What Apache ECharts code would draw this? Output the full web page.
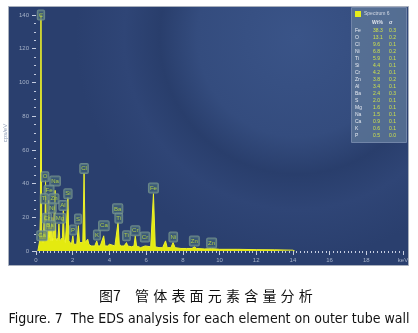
<!DOCTYPE html>
<html><head><meta charset="utf-8">
<script src="https://cdn.jsdelivr.net/npm/echarts@6/dist/echarts.min.js"></script>
<style>html,body{margin:0;padding:0;background:#fff;}#c{width:418px;height:333px;}</style>
</head><body><div id="c"></div>
<script>
// Spectrum (keV, cps/eV)
const energy = [0.10,0.15,0.20,0.24,0.27,0.31,0.35,0.38,0.42,0.45,0.48,0.52,0.56,0.58,0.62,0.66,0.70,0.74,0.78,0.82,0.86,0.90,0.94,1.00,1.04,1.08,1.13,1.20,1.25,1.30,1.38,1.44,1.49,1.54,1.60,1.68,1.74,1.79,1.85,1.93,2.01,2.06,2.15,2.22,2.31,2.37,2.46,2.55,2.62,2.68,2.78,2.82,2.88,3.00,3.10,3.20,3.31,3.38,3.50,3.59,3.69,3.76,3.90,4.01,4.10,4.30,4.40,4.47,4.54,4.65,4.80,4.93,5.00,5.20,5.34,5.41,5.48,5.70,5.80,5.95,6.05,6.25,6.40,6.50,6.70,6.90,7.06,7.15,7.35,7.47,7.58,7.90,8.20,8.50,8.63,8.75,9.20,9.57,10.0,11.0,12.0,13.0,14.0,14.1];
const counts = [0,3,6,20,150,10,8,5,12,22,10,42,12,18,6,10,30,8,14,6,20,6,8,26,36,8,6,8,16,6,7,8,24,7,5,6,32,6,5,4,9,4,5,4,15,5,4,5,46,5,4,7,4,3,4,3,6,3,3,4,9,3,3,4,3,3,4,17,4,3,3,5,3,2.5,3,9,3,2,2,3,2,2.5,34,2.5,2,2,6,2,2,5,2,1.5,1.5,1.5,2.5,1.5,1.2,1.5,1,1,0.8,0.7,0.5,0];

// Peak markers
const peakNames  = ['C','O','Na','Fe','Si','Ti','Zn','Al','Ni','Cr','Mg','Ba','S','P','Ca','K','Ca','Cl','Ba','Ti','Ti','Cr','Cr','Fe','Ni','Zn','Zn'];
const peakEnergy = [0.27,0.49,1.04,0.71,1.74,0.45,0.98,1.47,0.87,0.60,1.31,0.76,2.29,2.02,0.33,3.32,3.70,2.62,4.45,4.51,4.93,5.41,5.94,6.40,7.48,8.63,9.57];
const peakLabelY = [140,44,41.5,36,34,31,31,27,25.5,19.5,19.5,15,19,12.5,9,9.5,15,49,25,19.5,9,12,8.3,37.4,8.3,6,4.7];

// Quantification table
const tableElements = ['Fe','O','Cl','Ni','Ti','Si','Cr','Zn','Al','Ba','S','Mg','Na','Ca','K','P'];
const tableWt = ['38.3','13.1','9.6','6.8','5.9','4.4','4.2','3.8','3.4','2.4','2.0','1.6','1.5','0.9','0.6','0.5'];
const tableSigma = ['0.3','0.2','0.1','0.2','0.1','0.1','0.1','0.2','0.1','0.3','0.1','0.1','0.1','0.1','0.1','0.0'];

const xTicks = ['0','2','4','6','8','10','12','14','16','18','keV'];

const captionCN = ['图7','管','体','表','面','元','素','含','量','分','析'];
const captionEN = 'Figure. 7  The EDS analysis for each element on outer tube wall';

const chart = echarts.init(document.getElementById('c'), null, {renderer:'canvas'});

const graphics = [
  {type:'rect', z:-10, shape:{x:8.5,y:6.5,width:400,height:259},
   style:{fill:{type:'radial',x:0.72,y:0.12,r:0.85,colorStops:[
     {offset:0,color:'#3a5488'},{offset:0.45,color:'#344c7e'},{offset:0.62,color:'#293e6c'},
     {offset:0.78,color:'#2f4576'},{offset:1,color:'#2a3f6e'}]},
     stroke:'#a9b0bd',lineWidth:1}},
  {type:'rect', z:10, shape:{x:351.5,y:7.5,width:55,height:135},
   style:{fill:'rgba(90,116,150,0.85)',stroke:'#7185a8',lineWidth:1}},
  {type:'rect', z:11, shape:{x:355,y:11,width:6,height:6}, style:{fill:'#e6ee1a'}},
  {type:'text', z:11, x:364, y:14, style:{text:'Spectrum 6',fill:'#d5dbe6',font:'5px "Liberation Sans"',textVerticalAlign:'middle'}},
  {type:'text', z:11, x:372, y:23, style:{text:'Wt%',fill:'#e0e4ec',font:'bold 5px "Liberation Sans"',textVerticalAlign:'middle'}},
  {type:'text', z:11, x:389, y:23, style:{text:'σ',fill:'#e0e4ec',font:'bold 5px "Liberation Sans"',textVerticalAlign:'middle'}},
  {type:'text', z:5, x:209, y:319, style:{text:captionEN,fill:'#111',font:'14px "Liberation Sans Narrow", "DejaVu Sans Condensed"',textAlign:'center',textVerticalAlign:'middle'}}
];
captionCN.forEach((ch,i)=>{
  const x = i===0 ? 99 : 135 + (i-1)*18.2;
  graphics.push({type:'text', z:5, x:x, y:296, style:{text:ch,fill:'#111',font:'14px "Noto Sans CJK SC"',textVerticalAlign:'middle'}});
});
tableElements.forEach((el,i)=>{
  const y = 31 + i*7;
  graphics.push({type:'text', z:11, x:355, y:y, style:{text:el,fill:'#e4e8f0',font:'5px "Liberation Sans"',textVerticalAlign:'middle'}});
  graphics.push({type:'text', z:11, x:373, y:y, style:{text:tableWt[i],fill:'#cfe34a',font:'5px "Liberation Sans"',textVerticalAlign:'middle'}});
  graphics.push({type:'text', z:11, x:389, y:y, style:{text:tableSigma[i],fill:'#cfe34a',font:'5px "Liberation Sans"',textVerticalAlign:'middle'}});
});

chart.setOption({
  animation:false,
  backgroundColor:'#ffffff',
  grid:{left:36,right:15,top:15,bottom:82,containLabel:false,outerBoundsMode:'none'},
  xAxis:{type:'value',min:0,max:20,interval:2,
    axisLine:{show:false},
    axisTick:{show:true,length:4,lineStyle:{color:'#c5cde0'}},
    minorTick:{show:true,splitNumber:10,length:2,lineStyle:{color:'#c5cde0'}},
    splitLine:{show:false},
    axisLabel:{fontSize:6,color:'#a6b2c8',margin:6,formatter:(v)=>xTicks[Math.round(v/2)]}},
  yAxis:{type:'value',min:0,max:140,interval:20,offset:4,
    name:'cps/eV',nameLocation:'middle',nameGap:15,nameRotate:90,
    nameTextStyle:{fontSize:6,color:'#8c9ab4'},
    axisLine:{show:false},
    axisTick:{show:true,length:4,lineStyle:{color:'#c5cde0'}},
    minorTick:{show:true,splitNumber:4,length:2,lineStyle:{color:'#c5cde0'}},
    splitLine:{show:false},
    axisLabel:{fontSize:6,color:'#a6b2c8',margin:3}},
  graphic:graphics,
  series:[
    {type:'line',data:energy.map((e,i)=>[e,counts[i]]),symbol:'none',clip:true,
     lineStyle:{color:'#eef22a',width:1},areaStyle:{color:'#e4ea10',opacity:1},z:3},
    {type:'scatter',data:peakEnergy.map((e,i)=>[e,peakLabelY[i]]),symbolSize:0.1,z:6,
     label:{show:true,position:'inside',formatter:(p)=>peakNames[p.dataIndex],
       fontSize:6,color:'#c8e640',backgroundColor:'rgba(70,105,125,0.75)',
       borderColor:'#7c9a90',borderWidth:1,borderRadius:1,padding:[2,1,1,1],fontFamily:'Liberation Sans'}}
  ]
});
</script></body></html>
